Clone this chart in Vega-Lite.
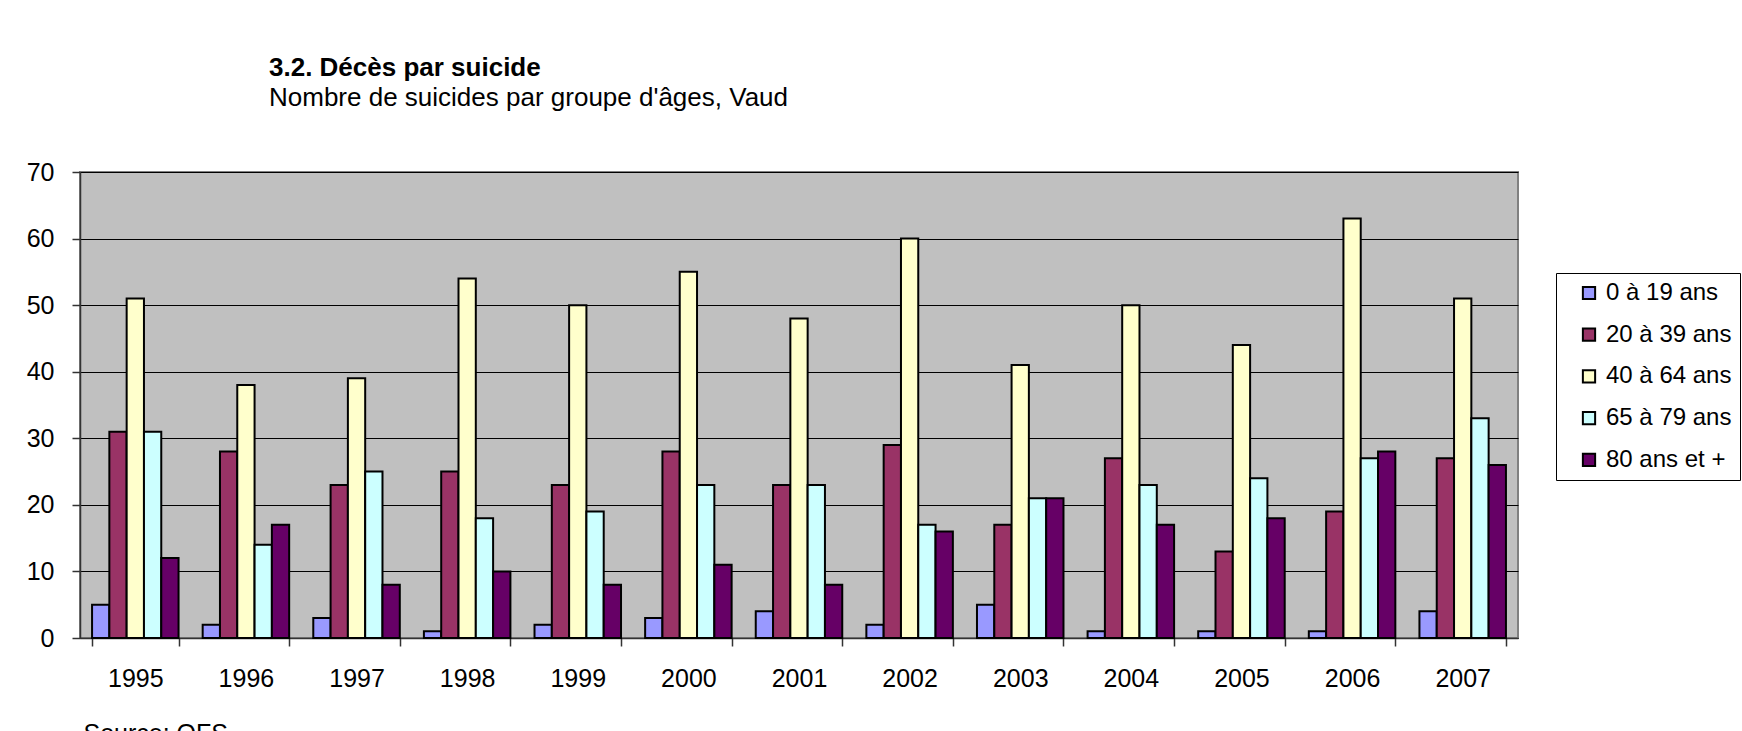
{
  "$schema": "https://vega.github.io/schema/vega-lite/v6.json",
  "autosize": "none",
  "width": 1438,
  "height": 466,
  "padding": {"left": 80, "top": 172, "right": 224, "bottom": 93},
  "background": "white",
  "config": {
    "font": "Liberation Sans",
    "view": {"fill": "#C0C0C0", "stroke": "#808080", "strokeWidth": 2}
  },
  "title": {
    "text": "3.2. Décès par suicide",
    "subtitle": "Nombre de suicides par groupe d'âges, Vaud",
    "anchor": "start",
    "frame": "group",
    "dx": 189,
    "offset": 49,
    "fontSize": 26,
    "fontWeight": "bold",
    "color": "black",
    "subtitleFontSize": 26,
    "subtitleColor": "black",
    "subtitlePadding": 4,
    "font": "Liberation Sans",
    "subtitleFont": "Liberation Sans"
  },
  "data": {
    "values": [
      {"annee": "1995", "groupe": "0 à 19 ans", "n": 5},
      {"annee": "1995", "groupe": "20 à 39 ans", "n": 31},
      {"annee": "1995", "groupe": "40 à 64 ans", "n": 51},
      {"annee": "1995", "groupe": "65 à 79 ans", "n": 31},
      {"annee": "1995", "groupe": "80 ans et +", "n": 12},
      {"annee": "1996", "groupe": "0 à 19 ans", "n": 2},
      {"annee": "1996", "groupe": "20 à 39 ans", "n": 28},
      {"annee": "1996", "groupe": "40 à 64 ans", "n": 38},
      {"annee": "1996", "groupe": "65 à 79 ans", "n": 14},
      {"annee": "1996", "groupe": "80 ans et +", "n": 17},
      {"annee": "1997", "groupe": "0 à 19 ans", "n": 3},
      {"annee": "1997", "groupe": "20 à 39 ans", "n": 23},
      {"annee": "1997", "groupe": "40 à 64 ans", "n": 39},
      {"annee": "1997", "groupe": "65 à 79 ans", "n": 25},
      {"annee": "1997", "groupe": "80 ans et +", "n": 8},
      {"annee": "1998", "groupe": "0 à 19 ans", "n": 1},
      {"annee": "1998", "groupe": "20 à 39 ans", "n": 25},
      {"annee": "1998", "groupe": "40 à 64 ans", "n": 54},
      {"annee": "1998", "groupe": "65 à 79 ans", "n": 18},
      {"annee": "1998", "groupe": "80 ans et +", "n": 10},
      {"annee": "1999", "groupe": "0 à 19 ans", "n": 2},
      {"annee": "1999", "groupe": "20 à 39 ans", "n": 23},
      {"annee": "1999", "groupe": "40 à 64 ans", "n": 50},
      {"annee": "1999", "groupe": "65 à 79 ans", "n": 19},
      {"annee": "1999", "groupe": "80 ans et +", "n": 8},
      {"annee": "2000", "groupe": "0 à 19 ans", "n": 3},
      {"annee": "2000", "groupe": "20 à 39 ans", "n": 28},
      {"annee": "2000", "groupe": "40 à 64 ans", "n": 55},
      {"annee": "2000", "groupe": "65 à 79 ans", "n": 23},
      {"annee": "2000", "groupe": "80 ans et +", "n": 11},
      {"annee": "2001", "groupe": "0 à 19 ans", "n": 4},
      {"annee": "2001", "groupe": "20 à 39 ans", "n": 23},
      {"annee": "2001", "groupe": "40 à 64 ans", "n": 48},
      {"annee": "2001", "groupe": "65 à 79 ans", "n": 23},
      {"annee": "2001", "groupe": "80 ans et +", "n": 8},
      {"annee": "2002", "groupe": "0 à 19 ans", "n": 2},
      {"annee": "2002", "groupe": "20 à 39 ans", "n": 29},
      {"annee": "2002", "groupe": "40 à 64 ans", "n": 60},
      {"annee": "2002", "groupe": "65 à 79 ans", "n": 17},
      {"annee": "2002", "groupe": "80 ans et +", "n": 16},
      {"annee": "2003", "groupe": "0 à 19 ans", "n": 5},
      {"annee": "2003", "groupe": "20 à 39 ans", "n": 17},
      {"annee": "2003", "groupe": "40 à 64 ans", "n": 41},
      {"annee": "2003", "groupe": "65 à 79 ans", "n": 21},
      {"annee": "2003", "groupe": "80 ans et +", "n": 21},
      {"annee": "2004", "groupe": "0 à 19 ans", "n": 1},
      {"annee": "2004", "groupe": "20 à 39 ans", "n": 27},
      {"annee": "2004", "groupe": "40 à 64 ans", "n": 50},
      {"annee": "2004", "groupe": "65 à 79 ans", "n": 23},
      {"annee": "2004", "groupe": "80 ans et +", "n": 17},
      {"annee": "2005", "groupe": "0 à 19 ans", "n": 1},
      {"annee": "2005", "groupe": "20 à 39 ans", "n": 13},
      {"annee": "2005", "groupe": "40 à 64 ans", "n": 44},
      {"annee": "2005", "groupe": "65 à 79 ans", "n": 24},
      {"annee": "2005", "groupe": "80 ans et +", "n": 18},
      {"annee": "2006", "groupe": "0 à 19 ans", "n": 1},
      {"annee": "2006", "groupe": "20 à 39 ans", "n": 19},
      {"annee": "2006", "groupe": "40 à 64 ans", "n": 63},
      {"annee": "2006", "groupe": "65 à 79 ans", "n": 27},
      {"annee": "2006", "groupe": "80 ans et +", "n": 28},
      {"annee": "2007", "groupe": "0 à 19 ans", "n": 4},
      {"annee": "2007", "groupe": "20 à 39 ans", "n": 27},
      {"annee": "2007", "groupe": "40 à 64 ans", "n": 51},
      {"annee": "2007", "groupe": "65 à 79 ans", "n": 33},
      {"annee": "2007", "groupe": "80 ans et +", "n": 26}
    ]
  },
  "mark": {"type": "bar", "stroke": "black", "strokeWidth": 2},
  "encoding": {
    "x": {
      "field": "annee",
      "type": "nominal",
      "scale": {"paddingInner": 0.218, "paddingOuter": 0.109},
      "axis": {
        "title": "Source: OFS",
        "titleFontSize": 25,
        "titleFontWeight": "normal",
        "titleColor": "black",
        "titleAnchor": "start",
        "titleAlign": "left",
        "titleBaseline": "top",
        "titleX": 3,
        "titleY": 83,
        "labelAngle": 0,
        "labelFontSize": 25,
        "labelColor": "black",
        "labelPadding": 20,
        "tickBand": "extent",
        "tickSize": 8,
        "tickColor": "#333333",
        "tickWidth": 1.5,
        "domainColor": "#333333",
        "domainWidth": 1.5,
        "grid": false
      }
    },
    "xOffset": {
      "field": "groupe",
      "type": "nominal",
      "scale": {"paddingInner": 0, "paddingOuter": 0}
    },
    "y": {
      "field": "n",
      "type": "quantitative",
      "scale": {"domain": [0, 70], "nice": false},
      "axis": {
        "title": null,
        "values": [0, 10, 20, 30, 40, 50, 60, 70],
        "labelFontSize": 25,
        "labelColor": "black",
        "labelPadding": 18,
        "tickSize": 8,
        "tickColor": "#333333",
        "tickWidth": 1.5,
        "domainColor": "#333333",
        "domainWidth": 1.5,
        "grid": true,
        "gridColor": "black",
        "gridWidth": 1,
        "gridOpacity": 1
      }
    },
    "fill": {
      "field": "groupe",
      "type": "nominal",
      "scale": {
        "domain": ["0 à 19 ans", "20 à 39 ans", "40 à 64 ans", "65 à 79 ans", "80 ans et +"],
        "range": ["#9999FF", "#993366", "#FFFFCC", "#CCFFFF", "#660066"]
      },
      "legend": {
        "title": null,
        "orient": "none",
        "legendX": 1476,
        "legendY": 101,
        "padding": 8,
        "strokeColor": "black",
        "fillColor": "white",
        "labelFontSize": 24,
        "labelColor": "black",
        "labelOffset": 5,
        "symbolType": "square",
        "symbolSize": 150,
        "symbolStrokeColor": "black",
        "symbolStrokeWidth": 2,
        "symbolOffset": 13,
        "rowPadding": 17.7
      }
    }
  }
}
